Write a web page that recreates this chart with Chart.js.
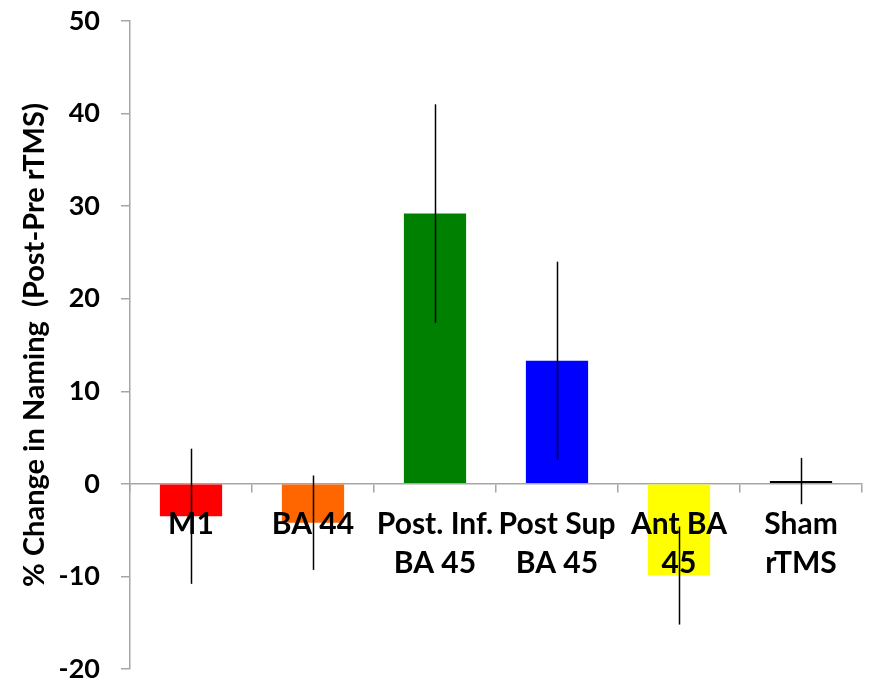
<!DOCTYPE html>
<html>
<head>
<meta charset="utf-8">
<script src="https://cdn.jsdelivr.net/npm/chart.js@4/dist/chart.umd.min.js"></script>
<style>
  html, body { margin: 0; padding: 0; background: #fff; }
  #wrap { width: 872px; height: 682px; }
</style>
</head>
<body>
<div id="wrap"><canvas id="chart" width="872" height="682"></canvas></div>
<script>
// Stimulation sites (multi-line category labels)
const categories = [
  ['M1'],
  ['BA 44'],
  ['Post. Inf.', 'BA 45'],
  ['Post Sup', 'BA 45'],
  ['Ant BA', '45'],
  ['Sham', 'rTMS']
];
// Mean % change in naming (post minus pre rTMS)
const meanChange = [-3.5, -4.2, 29.2, 13.3, -9.9, 0.3];
// Error bar half-lengths
const errorHalf = [7.3, 5.1, 11.8, 10.7, 5.3, 2.5];
const barColors = ['#FF0000', '#FF6600', '#008000', '#0000FF', '#FFFF00', '#000000'];
const yTicks = [-20, -10, 0, 10, 20, 30, 40, 50];

const FONT = 'Lato, "Open Sans", "DejaVu Sans", sans-serif';
const AXIS_COLOR = '#a6a6a6';

// Vertical error bars drawn on top of everything
const errorBarPlugin = {
  id: 'errorBars',
  afterDraw(chart) {
    const { ctx } = chart;
    const meta = chart.getDatasetMeta(0);
    const y = chart.scales.y;
    ctx.save();
    ctx.strokeStyle = '#000';
    ctx.lineWidth = 1.5;
    meta.data.forEach((bar, i) => {
      const v = meanChange[i], e = errorHalf[i];
      const x = Math.round(bar.x) + 0.5;
      ctx.beginPath();
      ctx.moveTo(x, y.getPixelForValue(v + e));
      ctx.lineTo(x, y.getPixelForValue(v - e));
      ctx.stroke();
    });
    ctx.restore();
  }
};

new Chart(document.getElementById('chart'), {
  type: 'bar',
  data: {
    labels: categories,
    datasets: [{
      data: meanChange,
      backgroundColor: barColors,
      borderWidth: 0,
      barPercentage: 0.51,
      categoryPercentage: 1.0
    }]
  },
  options: {
    responsive: false,
    animation: false,
    events: [],
    layout: { padding: { left: 0, right: 10, top: 21, bottom: 13 } },
    plugins: {
      legend: { display: false },
      tooltip: { enabled: false }
    },
    scales: {
      x: {
        position: { y: 0 },
        afterFit(scale) {
          // axis sits on the zero line, so it reserves no room below the plot
          scale.height = 0;
          scale.paddingTop = 0;
          scale.paddingBottom = 0;
        },
        grid: {
          drawOnChartArea: false,
          drawTicks: true,
          tickLength: 8,
          color: AXIS_COLOR,
          lineWidth: 1.5
        },
        border: { display: true, color: AXIS_COLOR, width: 1.5 },
        ticks: {
          z: 1,
          color: '#000',
          padding: 13,
          maxRotation: 0,
          autoSkip: false,
          font: { family: FONT, size: 30, weight: 'bold', lineHeight: 1.3 }
        }
      },
      y: {
        min: -20,
        max: 50,
        afterFit(scale) {
          scale.width = 130;
          scale.paddingTop = 0;
          scale.paddingBottom = 0;
        },
        afterBuildTicks(scale) { scale.ticks = yTicks.map(v => ({ value: v })); },
        grid: {
          drawOnChartArea: false,
          drawTicks: true,
          tickLength: 9,
          color: AXIS_COLOR,
          lineWidth: 1.5
        },
        border: { display: true, color: AXIS_COLOR, width: 1.5 },
        ticks: {
          color: '#000',
          padding: 21,
          font: { family: FONT, size: 27, weight: 'bold' }
        },
        title: {
          display: true,
          text: '% Change in Naming  (Post-Pre rTMS)',
          color: '#000',
          padding: { top: 17.5, bottom: 0 },
          font: { family: FONT, size: 29, weight: 'bold' }
        }
      }
    }
  },
  plugins: [errorBarPlugin]
});
</script>
</body>
</html>
